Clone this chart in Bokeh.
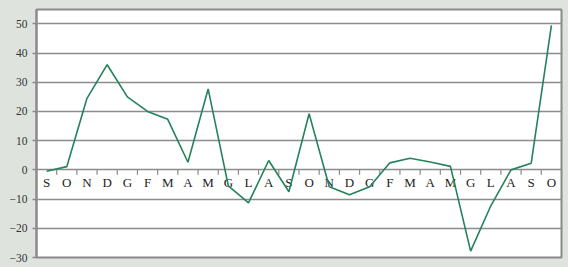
from bokeh.plotting import figure
from bokeh.models import FixedTicker, Range1d, ColumnDataSource
from bokeh.core.properties import value
from bokeh.embed import file_html
from bokeh.resources import INLINE

months = ["S", "O", "N", "D", "G", "F", "M", "A", "M", "G", "L", "A", "S",
          "O", "N", "D", "G", "F", "M", "A", "M", "G", "L", "A", "S", "O"]
values = [-0.5, 1.1, 24.5, 36.0, 25.0, 20.0, 17.3, 2.6, 27.7, -5.5, -11.3, 3.2, -7.5,
          19.2, -5.8, -8.5, -5.8, 2.4, 4.0, 2.7, 1.2, -27.8, -12.3, 0.0, 2.3, 49.5]
y_ticks = [-30, -20, -10, 0, 10, 20, 30, 40, 50]

BG = "#dfe3de"
GRID = "#8c8c8c"
LINE = "#25825a"
FONT = "Liberation Serif"

n = len(months)
idx = list(range(n))

p = figure(width=568, height=267, output_backend="svg", toolbar_location=None,
           x_range=Range1d(-0.5, n - 0.5), y_range=Range1d(-30, 54.9),
           x_axis_location=None,
           min_border_left=36, min_border_right=7, min_border_top=9, min_border_bottom=10)
p.background_fill_color = "white"
p.border_fill_color = BG
p.outline_line_color = "#8a8a8a"
p.outline_line_width = 2

p.xgrid.visible = False
p.ygrid.ticker = FixedTicker(ticks=y_ticks)
p.ygrid.grid_line_color = GRID
p.ygrid.grid_line_width = 1.5

ya = p.yaxis[0]
ya.ticker = FixedTicker(ticks=y_ticks)
ya.axis_line_color = "#8a8a8a"
ya.axis_line_width = 2
ya.major_tick_line_color = "#8a8a8a"
ya.major_tick_line_width = 1.5
ya.major_tick_out = 4
ya.major_tick_in = 0
ya.minor_tick_line_color = None
ya.major_label_standoff = 5
ya.major_label_text_font = FONT
ya.major_label_text_font_size = "11.5px"
ya.major_label_text_color = "#333333"

# category separator ticks on the zero line (length ~5px in data units)
px_per_unit = 248 / (54.9 + 30)
tick_len = 5 / px_per_unit
sep = [i + 0.5 for i in range(n - 1)]
p.segment(x0=sep, y0=[0] * len(sep), x1=sep, y1=[-tick_len] * len(sep),
          line_color="#8a8a8a", line_width=1.2)

# category labels below the zero line
src = ColumnDataSource(dict(x=idx, y=[0] * n, t=months))
p.text(x="x", y="y", text="t", source=src, text_align="center", text_baseline="top",
       y_offset=5, text_font=value(FONT), text_font_size="13px", text_color="#222222")

p.line(idx, values, line_color=LINE, line_width=1.6)

html = file_html(p, INLINE)
html = html.replace("<head>", "<head><style>html,body{margin:0;padding:0;background:%s;overflow:hidden;}</style>" % BG, 1)
open("out.html", "w").write(html)
